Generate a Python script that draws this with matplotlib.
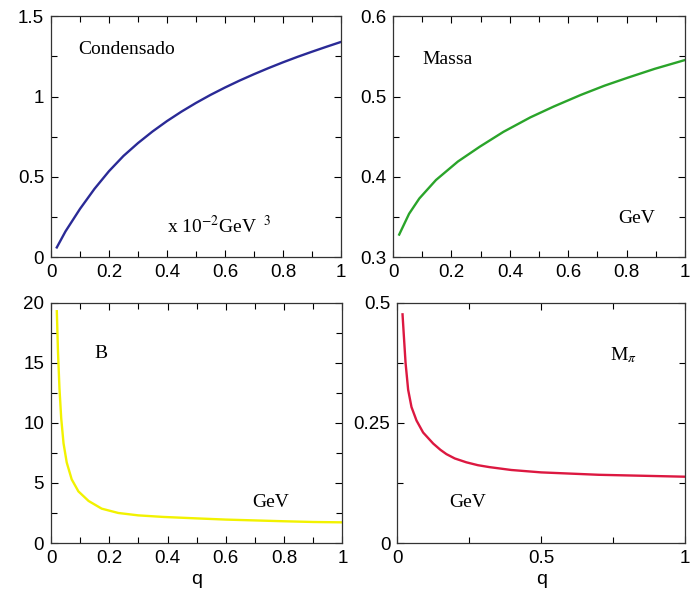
import matplotlib.pyplot as plt
from matplotlib.ticker import MultipleLocator, FuncFormatter

plt.rcParams["font.family"] = "Liberation Sans"
plt.rcParams["mathtext.fontset"] = "stix"

# chiral condensate (x 10^-2 GeV^3) vs q
q_cond = [0.02, 0.05, 0.1, 0.15, 0.2, 0.25, 0.3, 0.35, 0.4, 0.45, 0.5,
          0.55, 0.6, 0.65, 0.7, 0.75, 0.8, 0.85, 0.9, 0.95, 1.0]
condensado = [0.06, 0.16, 0.30, 0.425, 0.535, 0.63, 0.71, 0.782, 0.847, 0.906, 0.96,
              1.01, 1.056, 1.099, 1.139, 1.177, 1.213, 1.247, 1.279, 1.31, 1.34]

# constituent mass (GeV) vs q
q_massa = [0.021, 0.055, 0.09, 0.147, 0.222, 0.297, 0.378, 0.47, 0.55, 0.643, 0.724,
           0.804, 0.896, 1.0]
massa = [0.328, 0.354, 0.373, 0.396, 0.419, 0.4375, 0.456, 0.474, 0.4875, 0.502, 0.5135,
         0.5235, 0.5345, 0.5455]

# B (GeV) vs q
q_b = [0.02, 0.024, 0.029, 0.035, 0.043, 0.054, 0.071, 0.094, 0.129, 0.174,
       0.231, 0.3, 0.386, 0.5, 0.6, 0.7, 0.8, 0.9, 1.0]
b_vals = [19.3, 15.9, 12.9, 10.4, 8.3, 6.7, 5.3, 4.3, 3.5, 2.86,
          2.5, 2.3, 2.17, 2.05, 1.95, 1.88, 1.81, 1.75, 1.72]

# pion mass (GeV) vs q
q_mpi = [0.0185, 0.023, 0.029, 0.038, 0.0496, 0.067, 0.09, 0.125, 0.15, 0.171, 0.2,
         0.24, 0.28, 0.32, 0.396, 0.5, 0.7, 0.85, 1.0]
m_pi = [0.476, 0.432, 0.375, 0.319, 0.283, 0.255, 0.230, 0.207, 0.194, 0.185, 0.176,
        0.168, 0.162, 0.158, 0.152, 0.147, 0.142, 0.140, 0.138]

fig = plt.figure(figsize=(6.92, 6.02), dpi=100)

ax1 = fig.add_axes([0.0737, 0.573, 0.419, 0.400])
ax2 = fig.add_axes([0.568, 0.573, 0.422, 0.400])
ax3 = fig.add_axes([0.0737, 0.098, 0.421, 0.399])
ax4 = fig.add_axes([0.574, 0.098, 0.416, 0.399])

serif = dict(family="Liberation Serif", fontsize=14, va="center")


def style(ax, xmaj, xmin, ymaj, ymin):
    ax.xaxis.set_major_locator(MultipleLocator(xmaj))
    ax.xaxis.set_minor_locator(MultipleLocator(xmin))
    ax.yaxis.set_major_locator(MultipleLocator(ymaj))
    ax.yaxis.set_minor_locator(MultipleLocator(ymin))
    ax.xaxis.set_major_formatter(FuncFormatter(lambda v, _: "%g" % v))
    ax.yaxis.set_major_formatter(FuncFormatter(lambda v, _: "%g" % v))
    ax.tick_params(which="both", direction="in", top=True, right=True,
                   labelsize=13.5, width=0.8)
    ax.tick_params(which="major", length=5, pad=5)
    ax.tick_params(which="minor", length=4)
    for s in ax.spines.values():
        s.set_linewidth(0.9)
        s.set_color("#333333")


ax1.plot(q_cond, condensado, color="#2a2a96", lw=1.7)
ax1.set_xlim(0, 1)
ax1.set_ylim(0, 1.5)
style(ax1, 0.2, 0.1, 0.5, 0.25)
ax1.text(0.093, 0.86, "Condensado", transform=ax1.transAxes, **serif)
ax1.text(0.40, 0.13, r"x 10$^{-2}$GeV $^{\ 3}$", transform=ax1.transAxes, **serif)

ax2.plot(q_massa, massa, color="#2aa42a", lw=1.7)
ax2.set_xlim(0, 1)
ax2.set_ylim(0.3, 0.6)
style(ax2, 0.2, 0.1, 0.1, 0.05)
ax2.text(0.10, 0.82, "Massa", transform=ax2.transAxes, **serif)
ax2.text(0.77, 0.16, "GeV", transform=ax2.transAxes, **serif)

ax3.plot(q_b, b_vals, color="#f2f200", lw=1.7)
ax3.set_xlim(0, 1)
ax3.set_ylim(0, 20)
style(ax3, 0.2, 0.1, 5, 2.5)
ax3.set_xlabel("q", fontsize=14, labelpad=3)
ax3.text(0.15, 0.79, "B", transform=ax3.transAxes, **serif)
ax3.text(0.69, 0.17, "GeV", transform=ax3.transAxes, **serif)

ax4.plot(q_mpi, m_pi, color="#dc1840", lw=1.7)
ax4.set_xlim(0, 1)
ax4.set_ylim(0, 0.5)
style(ax4, 0.5, 0.25, 0.25, 0.125)
ax4.set_xlabel("q", fontsize=14, labelpad=3)
ax4.text(0.74, 0.78, r"M$_{\pi}$", transform=ax4.transAxes, **serif)
ax4.text(0.18, 0.17, "GeV", transform=ax4.transAxes, **serif)

fig.savefig("out.png", dpi=100)
